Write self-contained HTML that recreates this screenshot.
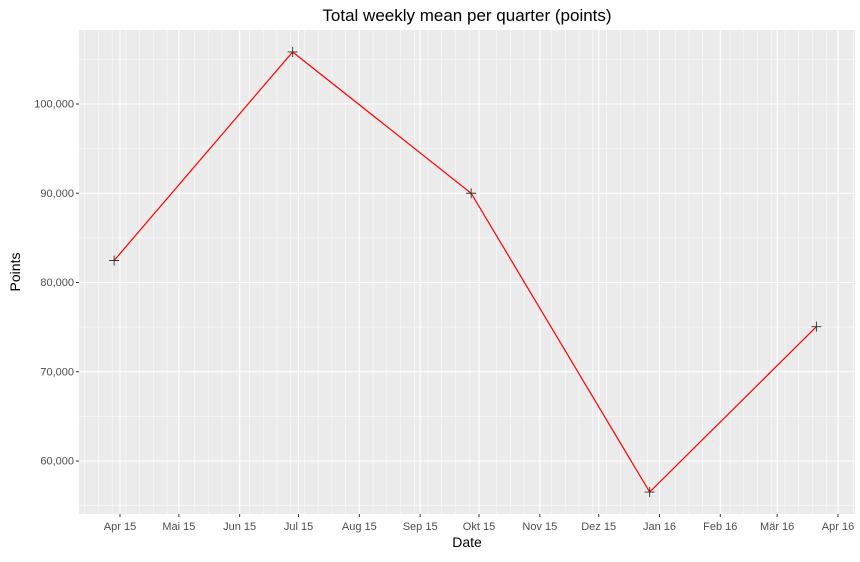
<!DOCTYPE html>
<html><head><meta charset="utf-8"><style>
body{margin:0;background:#fff;font-family:"Liberation Sans",sans-serif}
svg text{font-family:"Liberation Sans",sans-serif}
</style></head><body>
<svg id="c" width="860" height="557" xmlns="http://www.w3.org/2000/svg"></svg>
<script>
const dates=["2015-03-29","2015-06-28","2015-09-27","2015-12-27","2016-03-21"];
const values=[82465,105830,90000,56520,75050];
const xTickLabels=["Apr 15","Mai 15","Jun 15","Jul 15","Aug 15","Sep 15","Okt 15","Nov 15","Dez 15","Jan 16","Feb 16","Mär 16","Apr 16"];
const xTickDates=["2015-04-01","2015-05-01","2015-06-01","2015-07-01","2015-08-01","2015-09-01","2015-10-01","2015-11-01","2015-12-01","2016-01-01","2016-02-01","2016-03-01","2016-04-01"];
const yTicks=[60000,70000,80000,90000,100000];
const yTickLabels=["60,000","70,000","80,000","90,000","100,000"];

const NS="http://www.w3.org/2000/svg";
const svg=document.getElementById('c');
const L=79,R=855,T=30,B=514;
const d0=Date.UTC(2015,3,1);
function day(s){const p=s.split('-');return (Date.UTC(+p[0],+p[1]-1,+p[2])-d0)/86400000;}
function xs(s){return 120+day(s)*(718/366);}
function ys(v){return 104+(100000-v)*(89.25/10000);}
function el(t,a,p){const e=document.createElementNS(NS,t);for(const k in a)e.setAttribute(k,a[k]);(p||svg).appendChild(e);return e;}

const panel=el('rect',{x:L,y:T,width:R-L,height:B-T,fill:'#ebebeb'});



// minor horizontal
for(let v=55000;v<=105000;v+=10000){const y=ys(v);if(y<T||y>B)continue;
 const g=el('line',{x1:L,x2:R,y1:y,y2:y,stroke:'#fff','stroke-width':0.5});
 
 }
// minor vertical weekly
const majX=xTickDates.map(xs);
for(let d=-30;d<400;d+=7){const x=120+(d+14-16)*(718/366);if(x<L||x>R)continue;
 if(majX.some(m=>Math.abs(m-x)<5))continue;
 const g=el('line',{x1:x,x2:x,y1:T,y2:B,stroke:'#fff','stroke-width':0.5});
 
 }
// major
yTicks.forEach((v,i)=>{const y=ys(v);
 const g=el('line',{x1:L,x2:R,y1:y,y2:y,stroke:'#fff','stroke-width':1.1});
 
 
 const tk=el('line',{x1:L-3,x2:L,y1:y,y2:y,stroke:'#333','stroke-width':1});
 
 
 const t=el('text',{x:L-5,y:y+3.5,'text-anchor':'end','font-size':11,fill:'#4d4d4d'});t.textContent=yTickLabels[i];
 
 });
xTickDates.forEach((s,i)=>{const x=xs(s);
 const g=el('line',{x1:x,x2:x,y1:T,y2:B,stroke:'#fff','stroke-width':1.1});
 
 
 const tk=el('line',{x1:x,x2:x,y1:B,y2:B+3,stroke:'#333','stroke-width':1});
 
 
 const t=el('text',{x:x,y:B+16,'text-anchor':'middle','font-size':11,fill:'#4d4d4d'});t.textContent=xTickLabels[i];
 
 });
// line
const pts=dates.map((s,i)=>xs(s)+','+ys(values[i])).join(' ');
const ln=el('polyline',{points:pts,fill:'none',stroke:'#ff0000','stroke-width':1.2});


dates.forEach((s,i)=>{const x=xs(s),y=ys(values[i]);
 const g=el('path',{d:`M${x-5},${y}H${x+5}M${x},${y-5}V${y+5}`,stroke:'#333','stroke-width':0.9});
 
 });
// titles
const tt=el('text',{x:(L+R)/2,y:21,'text-anchor':'middle','font-size':17,fill:'#000'});tt.textContent='Total weekly mean per quarter (points)';


const xt=el('text',{x:(L+R)/2,y:547,'text-anchor':'middle','font-size':14,fill:'#000'});xt.textContent='Date';


const yt=el('text',{x:0,y:0,'text-anchor':'middle','font-size':14,fill:'#000',transform:`translate(20,${(T+B)/2}) rotate(-90)`});yt.textContent='Points';


</script>
</body></html>
